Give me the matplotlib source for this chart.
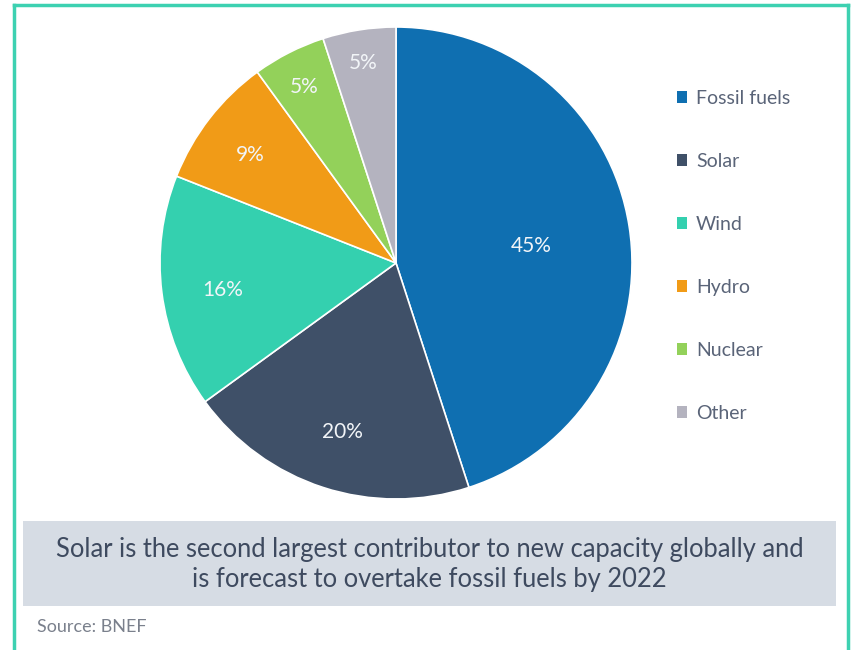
import numpy as np
import matplotlib.pyplot as plt
from matplotlib.patches import Rectangle
from matplotlib.lines import Line2D

plt.rcParams['font.family'] = ['Lato', 'DejaVu Sans']

labels = ["Fossil fuels", "Solar", "Wind", "Hydro", "Nuclear", "Other"]
shares = [45, 20, 16, 9, 5, 5]
colors = ["#0F6FB1", "#3F5068", "#34D0AF", "#F19B17", "#93D15A", "#B4B3BF"]
label_r = [0.58, 0.73, 0.74, 0.78, 0.86, 0.88]

caption = ("Solar is the second largest contributor to new capacity globally and\n"
           "is forecast to overtake fossil fuels by 2022")
source = "Source: BNEF"

W, H = 852, 650
fig = plt.figure(figsize=(W / 100, H / 100), dpi=100)

# teal frame (top, left, right)
teal = "#3DD1B1"
fig.add_artist(Line2D([14 / W, 848 / W], [1 - 5 / H, 1 - 5 / H], color=teal, lw=2.5))
fig.add_artist(Line2D([14 / W, 14 / W], [0, 1 - 5 / H], color=teal, lw=2.5))
fig.add_artist(Line2D([848 / W, 848 / W], [0, 1 - 5 / H], color=teal, lw=2.5))

cx, cy, r = 396, 263, 236
ax = fig.add_axes([(cx - r) / W, (H - cy - r) / H, 2 * r / W, 2 * r / H])
wedges, _ = ax.pie(shares, colors=colors, startangle=90, counterclock=False,
                   wedgeprops=dict(edgecolor="white", linewidth=1.2))
ax.set_xlim(-1, 1)
ax.set_ylim(-1, 1)
ax.set_aspect("equal")

for w, s, lr in zip(wedges, shares, label_r):
    mid = np.deg2rad((w.theta1 + w.theta2) / 2)
    ax.text(lr * np.cos(mid), lr * np.sin(mid) - 0.02, f"{s}%", ha="center", va="center",
            color="#F2F5F8", fontsize=15)

leg = fig.legend(wedges, labels, loc="upper left", bbox_to_anchor=(667 / W, 1 - 80 / H),
                 frameon=False, handlelength=0.55, handleheight=0.55, handletextpad=0.45,
                 labelspacing=2.37, fontsize=14, borderpad=0)
for t in leg.get_texts():
    t.set_color("#5A6478")
for h in leg.legend_handles:
    h.set_edgecolor("none")

fig.add_artist(Rectangle((23 / W, 1 - 606 / H), (836 - 23) / W, (606 - 521) / H,
                         transform=fig.transFigure, facecolor="#D6DCE4", edgecolor="none"))
fig.text((23 + 836) / 2 / W, 1 - 564 / H, caption, ha="center", va="center",
         fontsize=18.4, color="#3E4A5F", linespacing=1.25)
fig.text(37 / W, 1 - 627 / H, source, ha="left", va="center", fontsize=13,
         color="#7A808C")

fig.savefig("out.png", dpi=100)
